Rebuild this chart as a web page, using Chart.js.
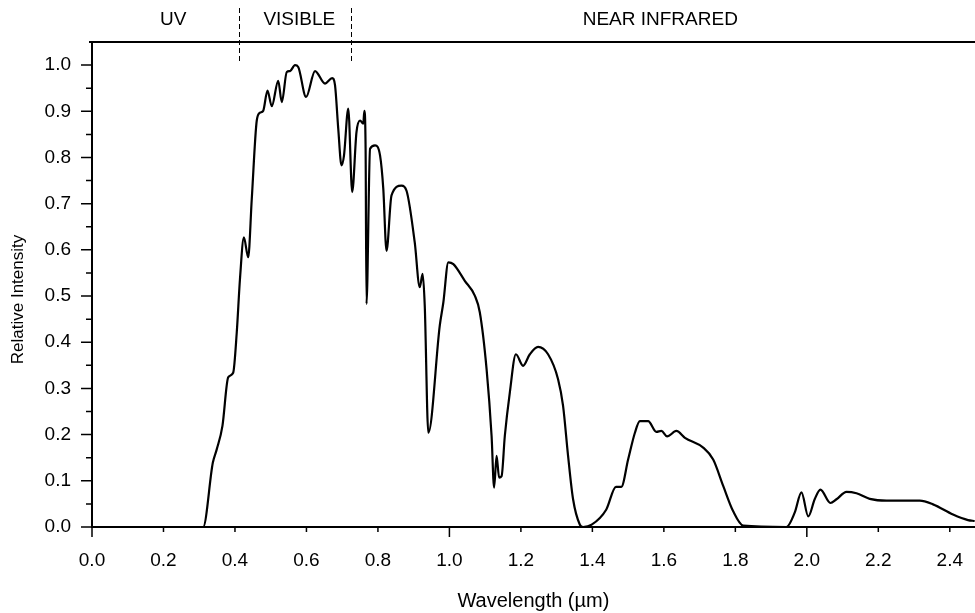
<!DOCTYPE html>
<html lang="en">
<head>
<meta charset="UTF-8">
<title>Solar spectrum</title>
<script src="https://cdn.jsdelivr.net/npm/chart.js"></script>
<style>
  body { margin: 0; background: #fff; }
  #wrap { width: 975px; height: 613px; }
</style>
</head>
<body>
<div id="wrap"><canvas id="spectrum"></canvas></div>
<script>
// wavelength (µm) and relative intensity of the measured spectrum
const wavelengths = [
  0.000, 0.300, 0.311, 0.338, 0.349, 0.365, 0.381, 0.395, 0.405, 0.414,
  0.425, 0.437, 0.447, 0.461, 0.470, 0.479, 0.491, 0.503, 0.521, 0.531,
  0.545, 0.554, 0.568, 0.577, 0.599, 0.624, 0.652, 0.672, 0.680, 0.689,
  0.698, 0.705, 0.717, 0.728, 0.740, 0.750, 0.759, 0.762, 0.7655, 0.768,
  0.778, 0.792, 0.806, 0.815, 0.824, 0.838, 0.866, 0.880, 0.903, 0.917,
  0.925, 0.931, 0.941, 0.973, 0.983, 0.997, 1.011, 1.043, 1.071, 1.085,
  1.104, 1.118, 1.125, 1.132, 1.139, 1.146, 1.155, 1.169, 1.186, 1.206,
  1.225, 1.248, 1.276, 1.304, 1.318, 1.332, 1.346, 1.365, 1.374, 1.398,
  1.439, 1.466, 1.481, 1.500, 1.519, 1.533, 1.556, 1.579, 1.593, 1.609,
  1.635, 1.659, 1.710, 1.738, 1.766, 1.794, 1.822, 1.943, 1.966, 1.985,
  2.004, 2.022, 2.038, 2.066, 2.083, 2.111, 2.139, 2.176, 2.223, 2.316,
  2.353, 2.409, 2.451, 2.470
];
const intensities = [
  0.000, 0.000, 0.000, 0.139, 0.168, 0.219, 0.324, 0.334, 0.421, 0.537,
  0.627, 0.584, 0.710, 0.880, 0.897, 0.901, 0.945, 0.911, 0.966, 0.920,
  0.985, 0.987, 1.000, 0.996, 0.931, 0.987, 0.960, 0.972, 0.956, 0.862,
  0.783, 0.804, 0.906, 0.725, 0.855, 0.880, 0.873, 0.901, 0.819, 0.483,
  0.819, 0.826, 0.804, 0.732, 0.598, 0.718, 0.739, 0.728, 0.616, 0.519,
  0.548, 0.479, 0.204, 0.436, 0.486, 0.573, 0.569, 0.533, 0.501, 0.465,
  0.342, 0.197, 0.085, 0.154, 0.107, 0.110, 0.197, 0.291, 0.374, 0.349,
  0.374, 0.390, 0.374, 0.320, 0.262, 0.154, 0.060, 0.005, 0.000, 0.005,
  0.038, 0.087, 0.087, 0.146, 0.204, 0.229, 0.229, 0.206, 0.208, 0.196,
  0.208, 0.193, 0.172, 0.146, 0.089, 0.034, 0.003, 0.000, 0.031, 0.075,
  0.023, 0.060, 0.081, 0.052, 0.060, 0.076, 0.073, 0.061, 0.057, 0.057,
  0.049, 0.027, 0.015, 0.013
];

const xTickValues = [0, 0.2, 0.4, 0.6, 0.8, 1.0, 1.2, 1.4, 1.6, 1.8, 2.0, 2.2, 2.4];
const yTickValues = [0, 0.1, 0.2, 0.3, 0.4, 0.5, 0.6, 0.7, 0.8, 0.9, 1.0];
const yMinorValues = [0.05, 0.15, 0.25, 0.35, 0.45, 0.55, 0.65, 0.75, 0.85, 0.95];

// spectral bands across the top
const bandNames = ['UV', 'VISIBLE', 'NEAR INFRARED'];
const bandLabelAt = [0.227, 0.58, 1.59];
const bandEdges = [0.41, 0.725];

const FONT = '"Liberation Sans", Arial, sans-serif';

const frame = {
  id: 'frame',
  afterDraw(chart) {
    const { ctx, chartArea: a, scales: { x, y } } = chart;
    ctx.save();
    ctx.strokeStyle = '#000';
    ctx.fillStyle = '#000';

    // tick marks
    ctx.lineWidth = 1.5;
    ctx.beginPath();
    yTickValues.forEach(v => {
      const py = y.getPixelForValue(v);
      ctx.moveTo(a.left - 11, py);
      ctx.lineTo(v === 0 ? a.left + 6 : a.left, py);
    });
    yMinorValues.forEach(v => {
      const py = y.getPixelForValue(v);
      ctx.moveTo(a.left - 6, py);
      ctx.lineTo(a.left, py);
    });
    xTickValues.forEach(v => {
      const px = x.getPixelForValue(v);
      const len = Math.abs(v - Math.round(v)) < 1e-9 ? 10 : 5;
      ctx.moveTo(px, v === 0 ? a.bottom - 5 : a.bottom);
      ctx.lineTo(px, a.bottom + len);
    });
    ctx.stroke();

    // rule along the top
    ctx.lineWidth = 2;
    ctx.beginPath();
    ctx.moveTo(a.left - 3, a.top);
    ctx.lineTo(chart.width, a.top);
    ctx.stroke();

    // dashed band dividers
    ctx.lineWidth = 1;
    ctx.setLineDash([5, 3]);
    ctx.beginPath();
    bandEdges.forEach(b => {
      const px = Math.round(x.getPixelForValue(b)) + 0.5;
      ctx.moveTo(px, 8);
      ctx.lineTo(px, a.top + 21);
    });
    ctx.stroke();
    ctx.setLineDash([]);

    ctx.font = '19px ' + FONT;
    ctx.textAlign = 'center';
    ctx.textBaseline = 'middle';
    bandNames.forEach((n, i) => ctx.fillText(n, x.getPixelForValue(bandLabelAt[i]), 20));

    // y axis title
    ctx.font = '17px ' + FONT;
    ctx.translate(18, (a.top + a.bottom) / 2 + 15);
    ctx.rotate(-Math.PI / 2);
    ctx.fillText('Relative Intensity', 0, 0);
    ctx.restore();
  }
};

new Chart(document.getElementById('spectrum'), {
  type: 'line',
  data: {
    datasets: [{
      data: wavelengths.map((w, i) => ({ x: w, y: intensities[i] })),
      borderColor: '#000',
      borderWidth: 2.2,
      pointRadius: 0,
      cubicInterpolationMode: 'monotone',
      fill: false
    }]
  },
  options: {
    responsive: true,
    maintainAspectRatio: false,
    animation: false,
    layout: { padding: { top: 42, right: 0, left: 0, bottom: 0 } },
    plugins: { legend: { display: false }, tooltip: { enabled: false } },
    scales: {
      x: {
        type: 'linear',
        min: 0,
        max: 2.47,
        afterBuildTicks: s => { s.ticks = xTickValues.map(v => ({ value: v })); },
        afterFit: s => { s.height = 86; },
        ticks: {
          color: '#000',
          font: { family: FONT, size: 19 },
          padding: 12,
          maxRotation: 0,
          autoSkip: false,
          callback: v => Number(v).toFixed(1)
        },
        grid: { drawOnChartArea: false, tickLength: 10, tickColor: 'transparent' },
        border: { display: true, color: '#000', width: 2 },
        title: {
          display: true,
          text: 'Wavelength (µm)',
          color: '#000',
          font: { family: FONT, size: 20 },
          padding: { top: 0, bottom: 0 }
        }
      },
      y: {
        min: 0,
        max: 1.05,
        afterBuildTicks: s => { s.ticks = yTickValues.map(v => ({ value: v })); },
        afterFit: s => { s.width = 92; },
        ticks: {
          color: '#000',
          font: { family: FONT, size: 19 },
          padding: 10,
          autoSkip: false,
          callback: v => Number(v).toFixed(1)
        },
        grid: { drawOnChartArea: false, tickLength: 11, tickColor: 'transparent' },
        border: { display: true, color: '#000', width: 2 }
      }
    }
  },
  plugins: [frame]
});
</script>
</body>
</html>
